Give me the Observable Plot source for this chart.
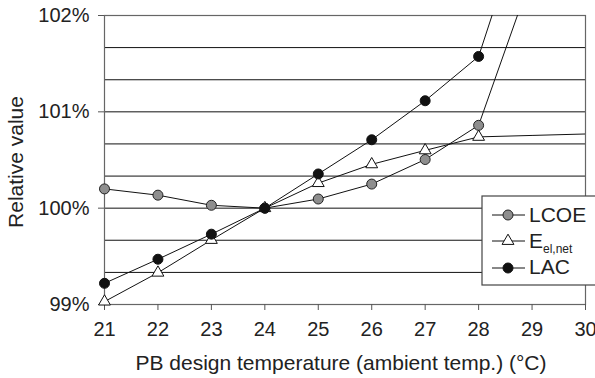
<!DOCTYPE html>
<html><head><meta charset="utf-8">
<script src="https://cdn.jsdelivr.net/npm/d3@7"></script>
<script src="https://cdn.jsdelivr.net/npm/@observablehq/plot@0.6"></script>
<style>body{margin:0;background:#fff;} #chart svg{display:block;}</style>
</head><body><div id="chart"></div>
<script>
// ---- data ----
const temps = [21, 22, 23, 24, 25, 26, 27, 28];
const lcoe  = [100.20, 100.135, 100.03, 100.00, 100.095, 100.25, 100.505, 100.86];
const eel   = [99.03, 99.33, 99.67, 100.00, 100.26, 100.455, 100.60, 100.74];
const lac   = [99.22, 99.47, 99.73, 100.00, 100.355, 100.71, 101.115, 101.575];
// line continuations beyond the last marker (no markers drawn there)
const lcoeTailTemps = [29];
const lcoeTail = [102.43];
const lacTailTemps = [29];
const lacTail = [103.27];
const eelTailTemps = [29, 30];
const eelTail = [100.755, 100.77];
const xTicks = [21, 22, 23, 24, 25, 26, 27, 28, 29, 30];
const yTicks = [99, 100, 101, 102];
const gridLines = [99.333, 99.667, 100, 100.333, 100.667, 101, 101.333, 101.667];
const seriesNames = ["LCOE", "E", "LAC"];
const xLabel = "PB design temperature (ambient temp.) (°C)";
const yLabel = "Relative value";

// ---- build rows ----
const pts = (xs, ys) => xs.map((t, i) => ({t, v: ys[i]}));
const lcoePts = pts(temps, lcoe), eelPts = pts(temps, eel), lacPts = pts(temps, lac);
const lcoeLine = lcoePts.concat(pts(lcoeTailTemps, lcoeTail));
const eelLine = eelPts.concat(pts(eelTailTemps, eelTail));
const lacLine = lacPts.concat(pts(lacTailTemps, lacTail));

const FONT = "'Liberation Sans', Arial, Helvetica, sans-serif";
const W = 595, H = 378;
const plot = Plot.plot({
  width: W, height: H,
  marginLeft: 104, marginRight: 10, marginTop: 15, marginBottom: 74,
  style: {fontFamily: FONT, fontSize: "20px", background: "#fff", color: "#222"},
  x: {domain: [21, 30]},
  y: {domain: [99, 102]},
  marks: [
    Plot.ruleY(gridLines, {stroke: "#111", strokeWidth: 1}),
    Plot.frame({stroke: "#666", strokeWidth: 1.2}),
    Plot.axisX(xTicks, {tickSize: 6, tickPadding: 11, fontSize: 20, label: null, stroke: "#555", fill: "#222"}),
    Plot.axisY(yTicks, {tickSize: 6, tickPadding: 9, fontSize: 20, label: null, tickFormat: d => d + "%", stroke: "#555", fill: "#222"}),
    Plot.line(lcoeLine, {x: "t", y: "v", stroke: "#111", strokeWidth: 1, clip: true}),
    Plot.line(eelLine, {x: "t", y: "v", stroke: "#111", strokeWidth: 1, clip: true}),
    Plot.line(lacLine, {x: "t", y: "v", stroke: "#111", strokeWidth: 1, clip: true}),
    Plot.dot(lcoePts, {x: "t", y: "v", r: 5, fill: "#8e8e8e", stroke: "#222", strokeWidth: 1}),
    Plot.dot(eelPts, {x: "t", y: "v", r: 4.4, symbol: "triangle", fill: "#fff", stroke: "#111", strokeWidth: 1}),
    Plot.dot(lacPts, {x: "t", y: "v", r: 5, fill: "#111", stroke: "#111", strokeWidth: 1})
  ]
});
document.getElementById("chart").appendChild(plot);

// ---- titles ----
const svg = d3.select(plot);
svg.append("text").attr("x", 341).attr("y", 370).attr("text-anchor", "middle")
  .attr("font-family", FONT).attr("font-size", 21).attr("fill", "#222").text(xLabel);
svg.append("text").attr("transform", "translate(23,162) rotate(-90)").attr("text-anchor", "middle")
  .attr("font-family", FONT).attr("font-size", 21).attr("fill", "#222").text(yLabel);

// ---- legend ----
const lg = svg.append("g").attr("font-family", FONT).attr("fill", "#222").attr("text-anchor", "start");
lg.append("rect").attr("x", 482).attr("y", 196).attr("width", 130).attr("height", 89)
  .attr("fill", "#fff").attr("stroke", "#444").attr("stroke-width", 1.2);
const rowsY = [215, 241, 268];
const baseY = [222, 248, 274];
rowsY.forEach((y, i) => {
  lg.append("line").attr("x1", 492).attr("x2", 525).attr("y1", y).attr("y2", y).attr("stroke", "#111");
  if (i === 0) lg.append("circle").attr("cx", 508).attr("cy", y).attr("r", 5).attr("fill", "#8e8e8e").attr("stroke", "#222");
  if (i === 2) lg.append("circle").attr("cx", 508).attr("cy", y).attr("r", 5).attr("fill", "#111").attr("stroke", "#111");
  if (i === 1) lg.append("path").attr("transform", `translate(508,${y})`)
    .attr("d", d3.symbol(d3.symbolTriangle, 4.4 * 4.4 * Math.PI)()).attr("fill", "#fff").attr("stroke", "#111");
  const t = lg.append("text").attr("x", 529).attr("y", baseY[i]).attr("font-size", 21).attr("text-anchor", "start").text(seriesNames[i]);
  if (i === 1) t.append("tspan").attr("font-size", 12).attr("dy", 5).text("el,net");
});
</script>
</body></html>
